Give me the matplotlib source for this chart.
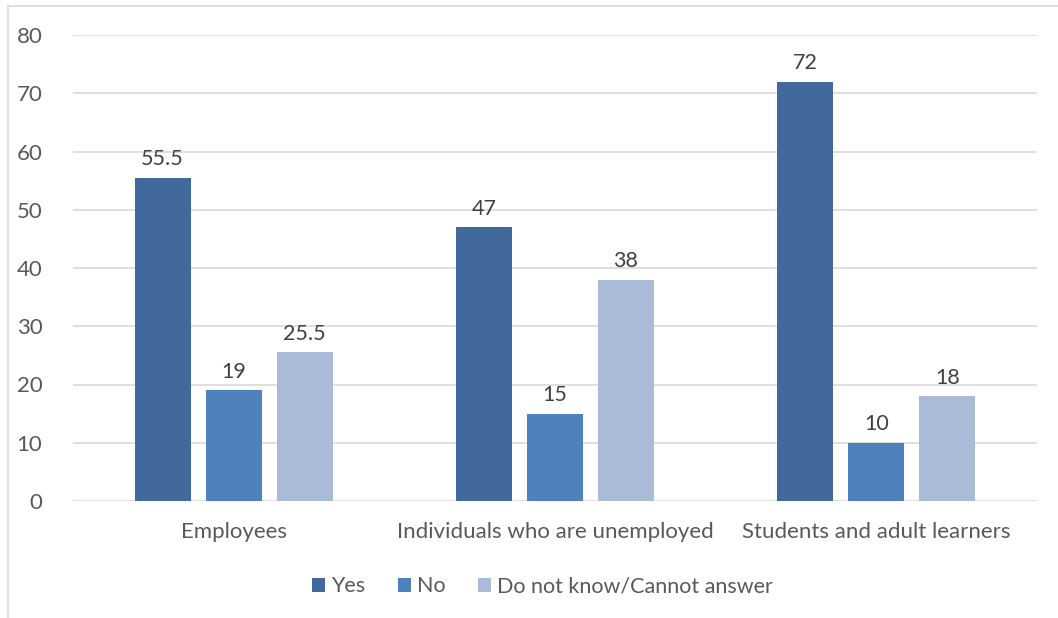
import numpy as np
import matplotlib.pyplot as plt
from matplotlib.patches import Rectangle

plt.rcParams['font.family'] = ['Lato', 'DejaVu Sans']

categories = ['Employees', 'Individuals who are unemployed', 'Students and adult learners']
series = ['Yes', 'No', 'Do not know/Cannot answer']
yes = [55.5, 47, 72]
no = [19, 15, 10]
dont_know = [25.5, 38, 18]
labels = [['55.5', '47', '72'], ['19', '15', '10'], ['25.5', '38', '18']]

colors = ['#41699b', '#4f81bd', '#aabad7']
text_col = '#595959'

fig = plt.figure(figsize=(10.58, 6.18), dpi=100)
ax = fig.add_axes([73/1058, 1-501/618, (1037-73)/1058, (501-35)/618])

# chart border (Excel style), bottom and right edges fall outside the picture
fig.patches.append(Rectangle((8/1058, -0.05), 1.2, 1.05-6/618, transform=fig.transFigure,
                             fill=False, edgecolor='#d9d9d9', linewidth=1.2))

x = np.arange(len(categories))
w = 0.174
step = 0.221
for i, (vals, lab) in enumerate(zip([yes, no, dont_know], labels)):
    pos = x + (i - 1) * step
    ax.bar(pos, vals, width=w, color=colors[i], label=series[i], zorder=3)
    for p, v, t in zip(pos, vals, lab):
        ax.text(p, v + 3.2, t, ha='center', va='center', fontsize=15.5, color='#404040')

ax.set_xlim(-0.5, 2.5)
ax.set_ylim(0, 80)
ax.set_yticks(range(0, 81, 10))
ax.grid(axis='y', color='#d9d9d9', linewidth=1.2, zorder=0)
for s in ax.spines.values():
    s.set_visible(False)
ax.set_xticks(x)
ax.set_xticklabels(categories, fontsize=16, color=text_col)
ax.tick_params(axis='y', labelsize=16, labelcolor=text_col, length=0, pad=22)
ax.tick_params(axis='x', length=0, pad=15)

ax.legend(loc='upper center', bbox_to_anchor=(0.487, -0.12), ncol=3, frameon=False,
          fontsize=15.5, labelcolor=text_col, handlelength=0.6, handleheight=0.6,
          handletextpad=0.3, columnspacing=1.5)

fig.savefig('out.png', dpi=100)
